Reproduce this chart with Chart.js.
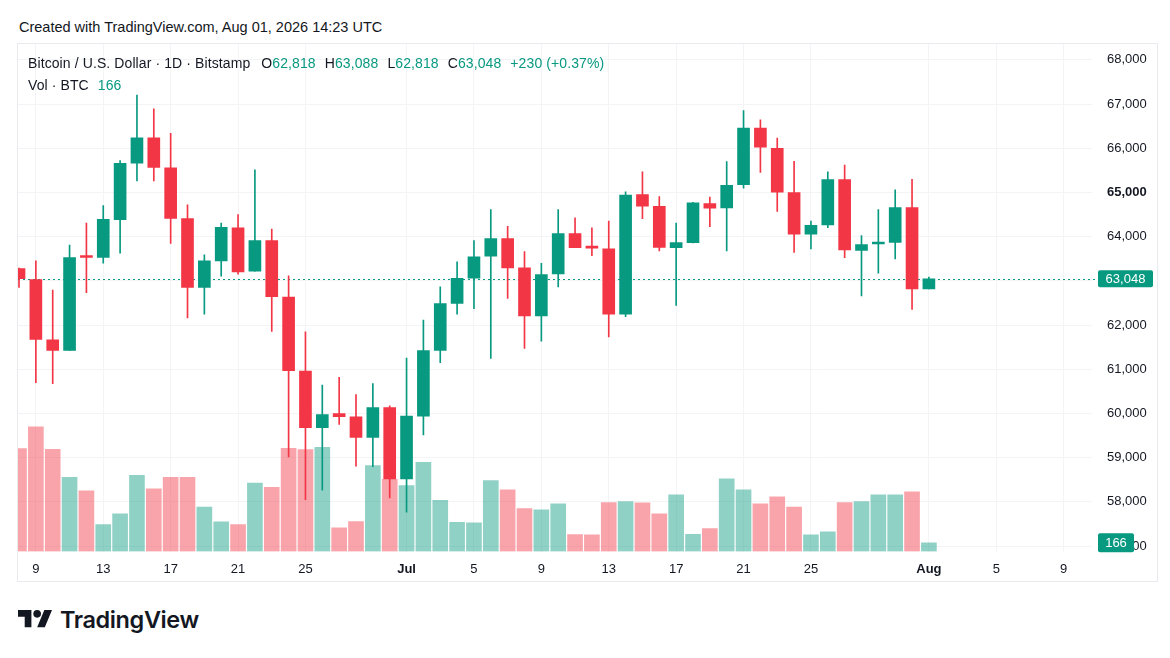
<!DOCTYPE html>
<html>
<head>
<meta charset="utf-8">
<script src="https://cdn.jsdelivr.net/npm/chart.js@4.4.1/dist/chart.umd.min.js"></script>
<style>
  body { margin:0; width:1170px; height:658px; background:#fff; position:relative; overflow:hidden;
         font-family:"Liberation Sans", Arial, sans-serif; color:#131722; }
  #created { position:absolute; left:19px; top:19px; font-size:14.5px; }
  #frame { position:absolute; left:17px; top:43px; width:1141px; height:539px; border:1px solid #e9eaee; box-sizing:border-box; }
  #wrap { position:absolute; left:18px; top:44px; width:1139px; height:537px; }
  .legend { position:absolute; left:28px; font-size:14px; letter-spacing:0.1px; white-space:nowrap; }
  .legend .k { margin-left:9px; }
  .g { color:#089981; }
  #logo { position:absolute; left:18px; top:604px; height:30px; display:flex; align-items:center; }
  #logo span { font-family:Inter, "Liberation Sans", sans-serif; font-weight:600; font-size:23.5px; letter-spacing:-0.4px; margin-left:8px; color:#131722; }
</style>
</head>
<body>
<div id="created">Created with TradingView.com, Aug 01, 2026 14:23 UTC</div>
<div id="frame"></div>
<div id="wrap"><canvas id="chart" width="1139" height="537"></canvas></div>
<div class="legend" style="top:55px">Bitcoin / U.S. Dollar · 1D · Bitstamp<span class="k" style="margin-left:11px">O</span><span class="g">62,818</span><span class="k">H</span><span class="g">63,088</span><span class="k">L</span><span class="g">62,818</span><span class="k">C</span><span class="g">63,048</span><span class="k g">+230 (+0.37%)</span></div>
<div class="legend" style="top:77px">Vol · BTC <span class="g" style="margin-left:5px">166</span></div>
<div id="logo">
  <svg width="34" height="17.3" viewBox="0 4 35.5 18"><path fill="#131722" d="M14 22H7V11H0V4h14v18zM28 22h-8l7.5-18h8L28 22z"/><circle fill="#131722" cx="20" cy="8" r="4"/></svg>
  <span>TradingView</span>
</div>
<script>
// daily candles, Jun 8 .. Aug 1
const days = ['Jun 8','Jun 9','Jun 10','Jun 11','Jun 12','Jun 13','Jun 14','Jun 15','Jun 16','Jun 17',
  'Jun 18','Jun 19','Jun 20','Jun 21','Jun 22','Jun 23','Jun 24','Jun 25','Jun 26','Jun 27',
  'Jun 28','Jun 29','Jun 30','Jul 1','Jul 2','Jul 3','Jul 4','Jul 5','Jul 6','Jul 7',
  'Jul 8','Jul 9','Jul 10','Jul 11','Jul 12','Jul 13','Jul 14','Jul 15','Jul 16','Jul 17',
  'Jul 18','Jul 19','Jul 20','Jul 21','Jul 22','Jul 23','Jul 24','Jul 25','Jul 26','Jul 27',
  'Jul 28','Jul 29','Jul 30','Jul 31','Aug 1'];
const opens = [63280,63030,61665,61430,63560,63530,64385,65665,66235,65560,
  64410,62855,63455,64200,63220,63910,62635,60960,59680,60000,
  59925,59460,60135,58520,59940,61430,62490,63060,63560,63955,
  63295,62210,63160,64070,63765,63725,62245,64955,64690,63750,
  63865,64750,64650,65175,66460,66000,65000,64060,64265,65290,
  63690,63835,63870,64660,62818];
const highs = [63290,63455,62790,63810,64310,64705,65720,67205,66895,66340,
  64720,63590,64310,64500,65515,64175,63115,61850,60645,60820,
  60430,60675,60175,61255,62115,62865,63430,63910,64615,64235,
  63665,63400,64615,64425,64200,64355,65015,65470,64910,64310,
  64780,64895,65700,66855,66645,66230,65705,64355,65470,65620,
  64025,64615,65060,65300,63088];
const lows = [62850,60700,60675,61430,62735,63400,63630,65265,65265,63850,
  62160,62245,63105,63150,63220,61855,59020,58050,58265,59755,
  58810,58800,58090,57770,59515,61150,62245,62370,61245,62605,
  61470,61635,62865,63750,63570,61735,62190,64410,63680,62445,
  63860,64225,63680,65100,65455,64570,63645,63725,64205,63525,
  62660,63175,63500,62355,62818];
const closes = [63050,61675,61430,63530,63530,64395,65660,66235,65570,64415,
  62855,63455,64210,63205,63910,62645,60970,59680,59975,59930,
  59460,60135,58520,59940,61425,62485,63060,63545,63955,63295,
  62210,63145,64070,63750,63740,62245,64940,64690,63755,63865,
  64765,64645,65160,66460,66025,65005,64060,64255,65290,63700,
  63820,63860,64660,62818,63048];
const volumes = [1957,2375,1946,1414,1153,513,716,1452,1191,1414,
  1414,844,564,513,1300,1222,1963,1938,1982,450,
  570,1634,1374,1254,1697,975,557,545,1349,1172,
  817,792,906,323,317,931,950,925,716,1077,
  329,437,1381,1172,906,1039,844,317,374,931,
  950,1077,1077,1134,166];

// axis ticks
const tickDays = [1,5,9,13,17,23,27,31,35,39,43,47,54,58,62];
const tickLabels = ['9','13','17','21','25','Jul','5','9','13','17','21','25','Aug','5','9'];
const boldLabels = ['Jul','Aug'];
const priceTicks = [57000,58000,59000,60000,61000,62000,63000,64000,65000,66000,67000,68000];
const boldPrice = 65000;

const UP = '#089981', DOWN = '#F23645';
const UP_VOL = 'rgba(8,153,129,0.45)', DOWN_VOL = 'rgba(242,54,69,0.45)';
const TEXT = '#131722', GRID = '#f3f4f6';

const isUp = closes.map((c, i) => c >= opens[i]);
const lastClose = closes[closes.length - 1];
const lastVol = volumes[volumes.length - 1];
const fmt = v => v.toLocaleString('en-US');

function badge(ctx, x, y, w, h, text) {
  ctx.fillStyle = UP;
  ctx.beginPath();
  ctx.roundRect(x, y - h / 2, w, h, 2);
  ctx.fill();
  ctx.fillStyle = '#fff';
  ctx.font = '13px "Liberation Sans", Arial, sans-serif';
  ctx.textAlign = 'center';
  ctx.textBaseline = 'middle';
  ctx.fillText(text, x + w / 2, y + 0.5);
}

const lastPrice = {
  id: 'lastPrice',
  beforeDatasetsDraw(chart) {
    const {ctx, chartArea: a, scales: {y}} = chart;
    const py = Math.round(y.getPixelForValue(lastClose)) + 0.5;
    ctx.save();
    ctx.strokeStyle = UP;
    ctx.lineWidth = 1;
    ctx.setLineDash([2, 3]);
    ctx.beginPath();
    ctx.moveTo(a.left, py);
    ctx.lineTo(a.right + 6, py);
    ctx.stroke();
    ctx.restore();
  },
  afterDraw(chart) {
    const {ctx, chartArea: a, scales: {y, yv}} = chart;
    ctx.save();
    badge(ctx, a.right + 6, y.getPixelForValue(lastClose), 55, 17, fmt(lastClose));
    badge(ctx, a.right + 6, yv.getPixelForValue(lastVol), 36, 19, fmt(lastVol));
    ctx.restore();
  }
};

Chart.defaults.font.family = '"Liberation Sans", Arial, sans-serif';

new Chart(document.getElementById('chart'), {
  type: 'bar',
  data: {
    datasets: [
      {
        label: 'Body',
        data: days.map((d, i) => ({x: i, y: [opens[i], closes[i]]})),
        backgroundColor: isUp.map(u => u ? UP : DOWN),
        barThickness: 12,
        minBarLength: 2,
        grouped: false,
        order: 1
      },
      {
        label: 'Wick',
        data: days.map((d, i) => ({x: i, y: [lows[i], highs[i]]})),
        backgroundColor: isUp.map(u => u ? UP : DOWN),
        barThickness: 1,
        grouped: false,
        order: 2
      },
      {
        label: 'Vol',
        data: days.map((d, i) => ({x: i, y: volumes[i]})),
        backgroundColor: isUp.map(u => u ? UP_VOL : DOWN_VOL),
        barThickness: 15,
        grouped: false,
        yAxisID: 'yv',
        order: 3
      }
    ]
  },
  options: {
    responsive: false,
    animation: false,
    layout: {padding: 0},
    plugins: {legend: {display: false}, tooltip: {enabled: false}},
    scales: {
      x: {
        type: 'linear',
        offset: false,
        min: -0.06,
        max: 63.68,
        afterBuildTicks: s => { s.ticks = tickDays.map(v => ({value: v})); },
        afterFit: s => { s.height = 29.5; s.paddingLeft = 0; s.paddingRight = 0; },
        ticks: {
          autoSkip: false,
          maxRotation: 0,
          padding: 10,
          color: TEXT,
          callback: (v, i) => tickLabels[i],
          font: ctx => ({size: 13, weight: boldLabels.includes(tickLabels[ctx.index]) ? 'bold' : 'normal'})
        },
        grid: {color: GRID, drawTicks: false, offset: false},
        border: {display: false}
      },
      y: {
        position: 'right',
        min: 56878,
        max: 68360,
        afterBuildTicks: s => { s.ticks = priceTicks.map(v => ({value: v})); },
        afterFit: s => { s.width = 65; s.paddingTop = 0; s.paddingBottom = 0; },
        ticks: {
          padding: 15,
          crossAlign: 'near',
          color: TEXT,
          callback: v => fmt(v),
          font: ctx => ({size: 13, weight: ctx.tick && ctx.tick.value === boldPrice ? 'bold' : 'normal'})
        },
        grid: {color: GRID, drawTicks: false},
        border: {display: false}
      },
      yv: {
        display: false,
        min: 0,
        max: 9660
      }
    }
  },
  plugins: [lastPrice]
});
</script>
</body>
</html>
